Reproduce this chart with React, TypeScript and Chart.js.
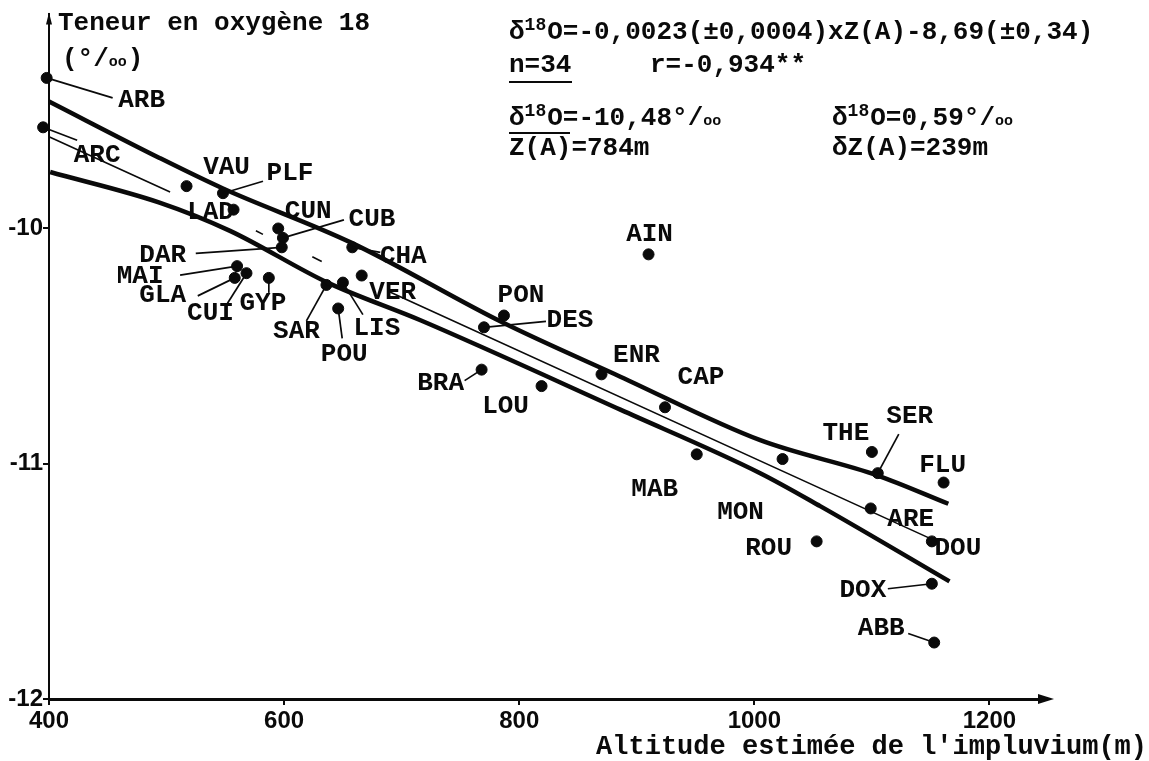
import { useEffect, useRef } from "react";
import { Chart, registerables } from "chart.js";

Chart.register(...registerables);

// ---- data ----
const stations = ["ARB","ARC","VAU","PLF","LAD","CUN","CUB","DAR","CHA","MAI","CUI","GLA","GYP","SAR","LIS","VER","POU","PON","DES","BRA","LOU","ENR","CAP","AIN","MAB","MON","THE","SER","FLU","ARE","DOU","ROU","DOX","ABB"];
const altitude = [398,395,517,548,557,595,599,598,658,560,568,558,587,636,650,666,646,787,770,768,819,870,924,910,951,1024,1100,1105,1161,1099,1151,1053,1151,1153];
const delta18O = [-9.36,-9.57,-9.82,-9.85,-9.92,-10.0,-10.04,-10.08,-10.08,-10.16,-10.19,-10.21,-10.21,-10.24,-10.23,-10.20,-10.34,-10.37,-10.42,-10.60,-10.67,-10.62,-10.76,-10.11,-10.96,-10.98,-10.95,-11.04,-11.08,-11.19,-11.33,-11.33,-11.51,-11.76];

const upperBandZ = [400, 494, 548, 657, 786, 886, 1005, 1105, 1165];
const upperBandD = [-9.46, -9.70, -9.83, -10.06, -10.40, -10.63, -10.90, -11.05, -11.17];
const lowerBandZ = [401, 494, 554, 637, 716, 886, 1005, 1056, 1166];
const lowerBandD = [-9.76, -9.89, -10.01, -10.23, -10.39, -10.77, -11.04, -11.18, -11.50];

// regression line (thin), with the breaks visible in the scan (null = gap)
const regZ = [400, 503, 540, 576, 582, 603, 624, 632, 660, 690, 1155];
const regD: (number | null)[] = [-9.61, -9.845, null, -10.01, -10.025, null, -10.12, -10.14, null, -10.27, -11.33];

const xTicks = [400, 600, 800, 1000, 1200];
const yTicks = [-12, -11, -10];

const yAxisTitle = "Teneur en oxygène 18";
const xAxisTitle = "Altitude estimée de l'impluvium(m)";

// label placement (pixel offsets from the point): [dx, dy, leaderDx, leaderDy]
const labelLayout: Record<string, number[]> = {
  ARB: [95, 23, 66, 20], ARC: [54, 28, 34, 13], VAU: [40, -19], PLF: [67, -20, 40, -12],
  LAD: [-23, 3], CUN: [30, -17], CUB: [89, -18, 61, -18], DAR: [-119, 8, -86, 6],
  CHA: [51, 9, 28, 5], MAI: [-97, 10, -57, 9], CUI: [-36, 40, -19, 30], GLA: [-72, 18, -37, 18],
  GYP: [-6, 26, 0, 15], SAR: [-30, 47, -20, 36], LIS: [34, 46, 20, 32], VER: [31, 17],
  POU: [6, 46, 4, 30], PON: [17, -20], DES: [86, -7, 62, -6], BRA: [-41, 14, -17, 11],
  LOU: [-36, 20], ENR: [35, -19], CAP: [36, -30], AIN: [1, -20], MAB: [-42, 35],
  MON: [-42, 53], THE: [-26, -19], SER: [32, -57, 21, -39], FLU: [-1, -17], ARE: [40, 11],
  DOU: [26, 7], ROU: [-48, 7], DOX: [-69, 7, -44, 5], ABB: [-53, -14, -26, -9],
};

const MONO = "'Liberation Mono', 'DejaVu Sans Mono', monospace";
const INK = "#0a0a0a";

type Run = [string, number, number]; // text, font size, baseline shift

export default function App() {
  const ref = useRef<HTMLCanvasElement | null>(null);

  useEffect(() => {
    if (!ref.current) return;

    const drawRuns = (ctx: CanvasRenderingContext2D, x: number, y: number, runs: Run[]) => {
      ctx.textAlign = "left";
      ctx.textBaseline = "alphabetic";
      let cx = x;
      runs.forEach(([t, size, dy]) => {
        ctx.font = `bold ${size}px ${MONO}`;
        ctx.fillText(t, cx, y + dy);
        cx += ctx.measureText(t).width + (size < 26 ? 1 : 0);
      });
      return cx;
    };
    // y is the baseline
    const delta = (rest: string, permil: boolean): Run[] => {
      const r: Run[] = [["δ", 26, 0], ["18", 18, -9], [rest, 26, 0]];
      if (permil) r.push(["oo", 15, 0]);
      return r;
    };

    const annot = {
      id: "annot",
      afterDatasetsDraw(chart: any) {
        const ctx: CanvasRenderingContext2D = chart.ctx;
        const xs = chart.scales.x;
        const ys = chart.scales.y;
        const { left, right, top, bottom } = chart.chartArea;
        ctx.save();
        ctx.fillStyle = INK;
        ctx.strokeStyle = INK;

        // axis arrows
        ctx.beginPath();
        ctx.moveTo(right + 14, bottom);
        ctx.lineTo(right - 2, bottom - 5);
        ctx.lineTo(right - 2, bottom + 5);
        ctx.closePath();
        ctx.fill();
        ctx.beginPath();
        ctx.moveTo(left, top - 2);
        ctx.lineTo(left - 3, top + 10);
        ctx.lineTo(left + 3, top + 10);
        ctx.closePath();
        ctx.fill();

        // axis titles
        ctx.textBaseline = "middle";
        ctx.textAlign = "left";
        ctx.font = `bold 26px ${MONO}`;
        ctx.fillText(yAxisTitle, 58, 23);
        drawRuns(ctx, 62, 66, [["(°/", 26, 0], ["oo", 15, 0], [")", 26, 0]]);
        ctx.textAlign = "right";
        ctx.textBaseline = "middle";
        ctx.font = `bold 27px ${MONO}`;
        ctx.fillText(xAxisTitle, 1147, 747);

        // statistics block (baselines)
        drawRuns(ctx, 509, 39, delta("O=-0,0023(±0,0004)xZ(A)-8,69(±0,34)", false));
        drawRuns(ctx, 509, 72, [["n=34", 26, 0]]);
        drawRuns(ctx, 650, 72, [["r=-0,934**", 26, 0]]);
        ctx.lineWidth = 2;
        ctx.beginPath();
        ctx.moveTo(509, 82);
        ctx.lineTo(572, 82);
        ctx.stroke();
        drawRuns(ctx, 509, 125, delta("O=-10,48°/", true));
        drawRuns(ctx, 832, 125, delta("O=0,59°/", true));
        ctx.beginPath();
        ctx.moveTo(509, 133);
        ctx.lineTo(570, 133);
        ctx.stroke();
        drawRuns(ctx, 509, 155, [["Z(A)=784m", 26, 0]]);
        drawRuns(ctx, 832, 155, [["δZ(A)=239m", 26, 0]]);

        // station labels and leader lines
        ctx.font = `bold 26px ${MONO}`;
        ctx.textAlign = "center";
        ctx.textBaseline = "middle";
        ctx.lineWidth = 1.7;
        stations.forEach((name, i) => {
          const px = xs.getPixelForValue(altitude[i]);
          const py = ys.getPixelForValue(delta18O[i]);
          const lay = labelLayout[name] || [20, -18];
          if (lay.length > 2) {
            ctx.beginPath();
            ctx.moveTo(px, py);
            ctx.lineTo(px + lay[2], py + lay[3]);
            ctx.stroke();
          }
          ctx.fillText(name, px + lay[0], py + lay[1]);
        });
        ctx.restore();
      },
    };

    const pts = (zs: number[], ds: (number | null)[]) => zs.map((z, i) => ({ x: z, y: ds[i] }));
    const tickFont = { family: "'Liberation Sans Narrow', 'Liberation Sans', sans-serif", weight: "bold", size: 24 };

    const chart = new Chart(ref.current, {
      type: "scatter",
      data: {
        datasets: [
          {
            type: "line",
            data: pts(upperBandZ, upperBandD) as any,
            borderColor: INK,
            borderWidth: 4.5,
            pointRadius: 0,
            cubicInterpolationMode: "monotone",
            clip: false as any,
          },
          {
            type: "line",
            data: pts(lowerBandZ, lowerBandD) as any,
            borderColor: INK,
            borderWidth: 4.5,
            pointRadius: 0,
            cubicInterpolationMode: "monotone",
            clip: false as any,
          },
          {
            type: "line",
            data: pts(regZ, regD) as any,
            borderColor: INK,
            borderWidth: 1.6,
            pointRadius: 0,
            spanGaps: false,
            clip: false as any,
          },
          {
            type: "scatter",
            data: pts(altitude, delta18O) as any,
            backgroundColor: INK,
            borderColor: INK,
            pointRadius: 5.5,
            pointHoverRadius: 5.5,
            clip: false as any,
          },
        ],
      },
      options: {
        responsive: false,
        animation: false,
        events: [],
        layout: { padding: { left: 0, right: 109, top: 2, bottom: 0 } },
        plugins: { legend: { display: false }, tooltip: { enabled: false } },
        scales: {
          x: {
            type: "linear",
            min: 400,
            max: 1243,
            afterFit: (s: any) => { s.height = 62; },
            afterBuildTicks: (s: any) => { s.ticks = xTicks.map((v) => ({ value: v })); },
            grid: { display: true, drawOnChartArea: false, drawTicks: true, tickLength: 6, color: INK, lineWidth: 2 },
            border: { display: true, color: INK, width: 3 },
            ticks: {
              color: INK,
              font: tickFont,
              padding: 2,
              maxRotation: 0,
              autoSkip: false,
              callback: (v: any) => String(v),
            },
          },
          y: {
            type: "linear",
            min: -12,
            max: -9.09,
            afterFit: (s: any) => { s.width = 49; },
            afterBuildTicks: (s: any) => { s.ticks = yTicks.map((v) => ({ value: v })); },
            grid: { display: true, drawOnChartArea: false, drawTicks: true, tickLength: 6, color: INK, lineWidth: 2 },
            border: { display: true, color: INK, width: 2 },
            ticks: {
              color: INK,
              font: tickFont,
              padding: 0,
              callback: (v: any) => String(v),
            },
          },
        },
      },
      plugins: [annot],
    } as any);

    return () => chart.destroy();
  }, []);

  return (
    <div style={{ position: "absolute", left: 0, top: 0, width: 1149, height: 761, background: "#fff" }}>
      <canvas ref={ref} width={1149} height={761} style={{ width: 1149, height: 761, display: "block" }} />
    </div>
  );
}
